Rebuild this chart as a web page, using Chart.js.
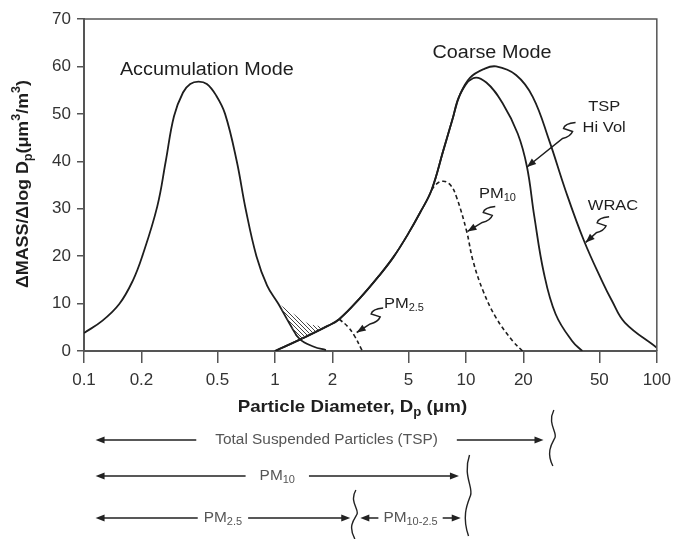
<!DOCTYPE html>
<html>
<head>
<meta charset="utf-8">
<script src="https://cdn.jsdelivr.net/npm/chart.js@4.4.1/dist/chart.umd.min.js"></script>
<style>
  html, body { margin: 0; padding: 0; background: #fff; }
  #wrap { width: 678px; height: 539px; }
</style>
</head>
<body>
<div id="wrap"><canvas id="chart" width="678" height="539"></canvas></div>
<script>
// x axis ticks
const xTickValues = [0.1, 0.2, 0.5, 1, 2, 5, 10, 20, 50, 100];
const xTickLabels = ['0.1', '0.2', '0.5', '1', '2', '5', '10', '20', '50', '100'];

// accumulation mode
const accumX = [0.1, 0.125, 0.153, 0.18, 0.202, 0.242, 0.268, 0.296, 0.33, 0.36, 0.398, 0.44, 0.49, 0.548, 0.631, 0.702, 0.80, 0.91, 1.04, 1.2, 1.35, 1.6, 1.85];
const accumY = [3.8, 6.4, 9.9, 14.8, 20, 30.5, 40, 49.5, 54.5, 56.3, 56.8, 56.3, 54, 50, 40, 30, 20, 13.8, 10, 5.6, 2.5, 0.9, 0.2];

// coarse mode, rising side shared by TSP and WRAC
const coarseX = [1.0, 1.35, 1.89, 2.17, 2.81, 3.5, 4.19, 5.0, 5.76, 6.62, 7.62, 8.5, 9.3];
const coarseY = [0, 2.4, 5.3, 6.7, 11.3, 15.8, 19.9, 24.8, 29.2, 34, 42.3, 48.8, 54];

// TSP Hi Vol falling side
const tspX = [10.9, 12.8, 15.6, 18.7, 20.9, 22.8, 25.6, 29.5, 36, 40.7];
const tspY = [57.5, 56.6, 52.2, 45.8, 38.8, 28.5, 16.5, 7.8, 2.1, 0];

// WRAC falling side
const wracX = [10.5, 12.5, 14.4, 18.3, 22.4, 27.3, 33.3, 41.5, 51.6, 58.2, 68, 100];
const wracY = [57.6, 59.5, 60, 58.2, 53.6, 44.4, 33.8, 23.3, 14.8, 10.6, 6, 0.7];

// PM10 sampler (dashed)
const pm10X = [6.62, 7.0, 7.62, 8.3, 8.94, 10.07, 10.9, 12.3, 14.4, 17.6, 19.8];
const pm10Y = [34, 35.2, 35.8, 35, 32.4, 25.4, 19, 12.7, 7, 2.1, 0];

// PM2.5 sampler (dashed)
const pm25X = [2.17, 2.4, 2.6, 2.87];
const pm25Y = [6.7, 5.2, 3.3, 0];

// hatched overlap region
const hatchTopX = [1.04, 1.22, 1.49, 1.67, 1.81];
const hatchTopY = [10, 8.1, 5.8, 5.3, 4.9];
const hatchBotX = [1.04, 1.2, 1.35, 1.5, 1.67, 1.81];
const hatchBotY = [10, 5.6, 2.4, 3.6, 4.3, 4.9];

// size ranges shown under the axis
const rangeRows = [
    { parts: [{ t: 'Total Suspended Particles (TSP)' }], from: 0.115, to: 25.5, y: 440, gap: 19, shift: 7 },
    { parts: [{ t: 'PM' }, { t: '10', sub: true }], from: 0.115, to: 9.2, y: 476, gap: 14, shift: 0 },
    { parts: [{ t: 'PM' }, { t: '2.5', sub: true }], from: 0.115, to: 2.48, y: 518, gap: 6, shift: 0 },
    { parts: [{ t: 'PM' }, { t: '10-2.5', sub: true }], from: 2.8, to: 9.4, y: 518, gap: 5, shift: 0 }
];
const braces = [
    { x: 28.2, top: 410, bottom: 466 },
    { x: 10.2, top: 455, bottom: 536 },
    { x: 2.59, top: 490, bottom: 539 }
];

const zip = (xs, ys) => xs.map((x, i) => ({ x: x, y: ys[i] }));
const FONT = "'Liberation Sans', Arial, sans-serif";
const INK = '#1e1e1e';

function hatchPattern() {
    const c = document.createElement('canvas');
    c.width = 4; c.height = 4;
    const g = c.getContext('2d');
    g.strokeStyle = '#444';
    g.lineWidth = 1;
    g.beginPath();
    g.moveTo(0, 0); g.lineTo(4, 4);
    g.moveTo(-1, 3); g.lineTo(1, 5);
    g.moveTo(3, -1); g.lineTo(5, 1);
    g.stroke();
    return g.createPattern(c, 'repeat');
}

// text with sub/superscripts, stretched a little wider like the original
function drawRich(ctx, parts, x, y, size, opts) {
    opts = opts || {};
    const weight = opts.bold ? 'bold ' : '';
    const sx = opts.sx || 1.1;
    ctx.save();
    ctx.translate(x, y);
    ctx.scale(sx, 1);
    ctx.fillStyle = opts.color || INK;
    ctx.textBaseline = 'middle';
    ctx.textAlign = 'left';
    const fontOf = p => weight + Math.round((p.sub || p.sup) ? size * 0.68 : size) + 'px ' + FONT;
    const widths = parts.map(p => { ctx.font = fontOf(p); return ctx.measureText(p.t).width; });
    const total = widths.reduce((a, b) => a + b, 0);
    let cx = opts.align === 'center' ? -total / 2 : opts.align === 'right' ? -total : 0;
    if (!opts.measureOnly) {
        parts.forEach((p, i) => {
            ctx.font = fontOf(p);
            const dy = p.sub ? size * 0.32 : p.sup ? -size * 0.38 : 0;
            ctx.fillText(p.t, cx, dy);
            cx += widths[i];
        });
    }
    ctx.restore();
    return total * sx;
}

function arrowHead(ctx, fx, fy, tx, ty, len, half) {
    const a = Math.atan2(ty - fy, tx - fx);
    ctx.beginPath();
    ctx.moveTo(tx, ty);
    ctx.lineTo(tx - len * Math.cos(a) + half * Math.sin(a), ty - len * Math.sin(a) - half * Math.cos(a));
    ctx.lineTo(tx - len * Math.cos(a) - half * Math.sin(a), ty - len * Math.sin(a) + half * Math.cos(a));
    ctx.closePath();
    ctx.fill();
}

function squiggleArrow(ctx, cx, cy, tx, ty) {
    ctx.beginPath();
    ctx.moveTo(cx + 7, cy - 8);
    ctx.quadraticCurveTo(cx - 4, cy - 7, cx - 5, cy - 2);
    ctx.lineTo(cx + 4, cy + 1);
    ctx.quadraticCurveTo(cx + 2, cy + 6, cx - 6, cy + 8);
    ctx.lineTo(tx, ty);
    ctx.stroke();
    arrowHead(ctx, cx - 6, cy + 8, tx, ty, 9, 3.5);
}

function brace(ctx, x, top, bottom) {
    const h = bottom - top, mid = (top + bottom) / 2;
    ctx.beginPath();
    ctx.moveTo(x + 2, top);
    ctx.bezierCurveTo(x - 5, top + h * 0.25, x + 6, mid - h * 0.1, x + 3, mid);
    ctx.bezierCurveTo(x, mid + h * 0.1, x - 6, bottom - h * 0.25, x + 1, bottom);
    ctx.stroke();
}

const annotations = {
    id: 'annotations',
    afterDraw(chart) {
        const ctx = chart.ctx;
        const xs = chart.scales.x, ys = chart.scales.y;
        const ca = chart.chartArea;
        const px = v => xs.getPixelForValue(v);
        const py = v => ys.getPixelForValue(v);

        ctx.save();
        // frame top and right
        ctx.strokeStyle = '#555';
        ctx.lineWidth = 1.5;
        ctx.beginPath();
        ctx.moveTo(ca.left, ca.top);
        ctx.lineTo(ca.right, ca.top);
        ctx.lineTo(ca.right, ca.bottom);
        ctx.stroke();

        // labels inside the plot
        drawRich(ctx, [{ t: 'Accumulation Mode' }], px(0.44), py(59.3), 18, { align: 'center' });
        drawRich(ctx, [{ t: 'Coarse Mode' }], px(13.7), py(62.8), 18, { align: 'center' });
        drawRich(ctx, [{ t: 'TSP' }], px(53), py(51.4), 15, { align: 'center' });
        drawRich(ctx, [{ t: 'Hi Vol' }], px(53), py(47), 15, { align: 'center' });
        drawRich(ctx, [{ t: 'WRAC' }], px(59), py(30.7), 15, { align: 'center' });
        drawRich(ctx, [{ t: 'PM' }, { t: '10', sub: true }], px(11.7), py(33.2), 15);
        drawRich(ctx, [{ t: 'PM' }, { t: '2.5', sub: true }], px(3.72), py(10), 15);

        // pointer arrows
        ctx.strokeStyle = INK;
        ctx.fillStyle = INK;
        ctx.lineWidth = 1.5;
        squiggleArrow(ctx, px(34.5), py(46.5), px(20.9), py(38.8));
        squiggleArrow(ctx, px(13.1), py(28.8), px(10.2), py(25.2));
        squiggleArrow(ctx, px(51.7), py(26.6), px(42.4), py(22.9));
        squiggleArrow(ctx, px(3.39), py(7.4), px(2.68), py(3.9));

        // axis titles
        drawRich(ctx, [{ t: 'Particle Diameter, D' }, { t: 'p', sub: true }, { t: ' (μm)' }],
            (ca.left + ca.right) / 2 - 18, 407, 17, { bold: true, align: 'center' });
        ctx.save();
        ctx.translate(23, 184);
        ctx.rotate(-Math.PI / 2);
        drawRich(ctx, [{ t: 'ΔMASS/Δlog D' }, { t: 'p', sub: true }, { t: '(μm' }, { t: '3', sup: true },
            { t: '/m' }, { t: '3', sup: true }, { t: ')' }], 0, 0, 17, { bold: true, align: 'center', sx: 1.05 });
        ctx.restore();

        // size range arrows under the axis
        ctx.strokeStyle = '#222';
        ctx.fillStyle = '#222';
        ctx.lineWidth = 1.6;
        rangeRows.forEach(r => {
            const x0 = px(r.from), x1 = px(r.to), mid = (x0 + x1) / 2 + r.shift;
            const w = drawRich(ctx, r.parts, mid, r.y, 14, { align: 'center', measureOnly: true });
            drawRich(ctx, r.parts, mid, r.y, 14, { align: 'center', color: '#555' });
            ctx.beginPath();
            ctx.moveTo(x0 + 4, r.y); ctx.lineTo(mid - w / 2 - r.gap, r.y);
            ctx.moveTo(mid + w / 2 + r.gap, r.y); ctx.lineTo(x1 - 4, r.y);
            ctx.stroke();
            arrowHead(ctx, x0 + 10, r.y, x0, r.y, 9, 3.5);
            arrowHead(ctx, x1 - 10, r.y, x1, r.y, 9, 3.5);
        });
        ctx.lineWidth = 1.4;
        braces.forEach(b => brace(ctx, px(b.x), b.top, b.bottom));
        ctx.restore();
    }
};

const ctxEl = document.getElementById('chart');
const hatch = hatchPattern();

const lineStyle = {
    showLine: true,
    pointRadius: 0,
    borderColor: INK,
    borderWidth: 1.8,
    fill: false,
    tension: 0.4
};

new Chart(ctxEl, {
    type: 'scatter',
    data: {
        datasets: [
            Object.assign({}, lineStyle, { label: 'hatchTop', data: zip(hatchTopX, hatchTopY), borderWidth: 0, borderColor: 'rgba(0,0,0,0)', fill: '+1', backgroundColor: hatch }),
            Object.assign({}, lineStyle, { label: 'hatchBottom', data: zip(hatchBotX, hatchBotY), borderWidth: 0, borderColor: 'rgba(0,0,0,0)' }),
            Object.assign({}, lineStyle, { label: 'Accumulation Mode', data: zip(accumX, accumY) }),
            Object.assign({}, lineStyle, { label: 'TSP Hi Vol', data: zip(coarseX.concat(tspX), coarseY.concat(tspY)) }),
            Object.assign({}, lineStyle, { label: 'WRAC', data: zip(coarseX.concat(wracX), coarseY.concat(wracY)) }),
            Object.assign({}, lineStyle, { label: 'PM10', data: zip(pm10X, pm10Y), borderDash: [4, 3], borderWidth: 1.6 }),
            Object.assign({}, lineStyle, { label: 'PM2.5', data: zip(pm25X, pm25Y), borderDash: [4, 3], borderWidth: 1.6 })
        ]
    },
    options: {
        responsive: false,
        animation: false,
        events: [],
        layout: { padding: { left: 0, right: 16, top: 19, bottom: 0 } },
        plugins: {
            legend: { display: false },
            tooltip: { enabled: false }
        },
        scales: {
            x: {
                type: 'logarithmic',
                min: 0.1,
                max: 100,
                afterBuildTicks: (scale) => { scale.ticks = xTickValues.map(v => ({ value: v })); },
                afterFit: (scale) => { scale.height = 188; },
                ticks: {
                    autoSkip: false,
                    maxRotation: 0,
                    padding: 7,
                    color: '#333',
                    font: { family: FONT, size: 17 },
                    callback: (value, index) => xTickLabels[index]
                },
                grid: { drawOnChartArea: false, drawTicks: true, tickLength: 12, color: '#555', lineWidth: 1.5 },
                border: { display: true, color: '#555', width: 2 }
            },
            y: {
                min: 0,
                max: 70,
                afterFit: (scale) => { scale.width = 84; },
                ticks: {
                    stepSize: 10,
                    padding: 6,
                    color: '#333',
                    font: { family: FONT, size: 17 }
                },
                grid: { drawOnChartArea: false, drawTicks: true, tickLength: 7, color: '#555', lineWidth: 1.5 },
                border: { display: true, color: '#555', width: 2 }
            }
        }
    },
    plugins: [annotations]
});
</script>
</body>
</html>
